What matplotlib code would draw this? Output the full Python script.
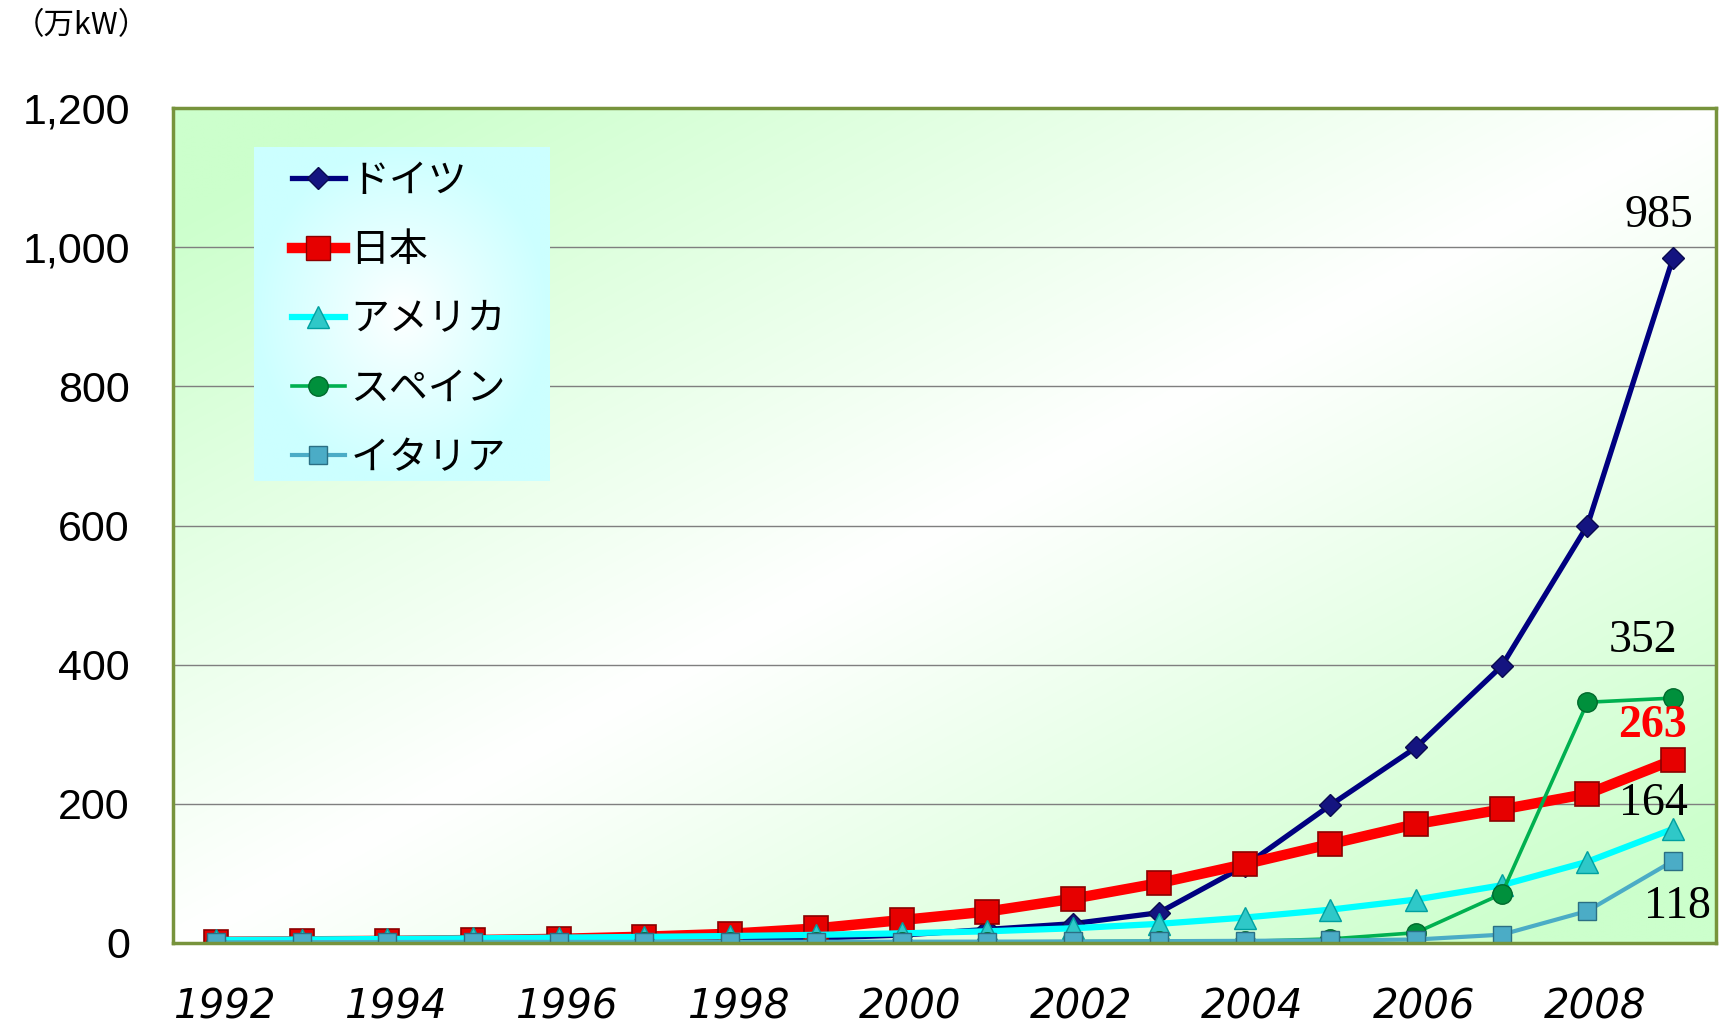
import numpy as np
import matplotlib
matplotlib.use("Agg")
import matplotlib.pyplot as plt
import matplotlib.transforms as mtransforms
from matplotlib.lines import Line2D

# ---------------- data ----------------
years = [1992, 1993, 1994, 1995, 1996, 1997, 1998, 1999, 2000,
         2001, 2002, 2003, 2004, 2005, 2006, 2007, 2008, 2009]
germany = [0.6, 0.9, 1.2, 1.8, 2.8, 4.2, 5.4, 7.0, 11.4,
           19.5, 27.8, 43.5, 110.5, 198, 281, 398, 600, 985]
japan = [1.9, 2.4, 3.1, 4.3, 6.0, 9.1, 13.3, 20.9, 33.0,
         45.2, 63.7, 86.0, 113.2, 142.2, 170.9, 191.9, 214.4, 263]
usa = [4.4, 5.0, 5.8, 6.7, 7.7, 8.8, 10.0, 11.7, 13.9,
       16.8, 21.2, 27.5, 36.5, 47.9, 62.4, 83.0, 116.8, 164]
spain = [0.5, 0.5, 0.6, 0.6, 0.7, 0.8, 0.9, 1.0, 1.2,
         1.5, 2.0, 2.7, 2.3, 5.8, 14.8, 70.5, 346, 352]
italy = [0.8, 1.2, 1.4, 1.6, 1.6, 1.7, 1.8, 1.8, 1.9,
         2.0, 2.2, 2.6, 3.1, 3.8, 5.0, 12.0, 46.0, 118]
labels = ["ドイツ", "日本", "アメリカ", "スペイン", "イタリア"]
y_ticks = [0, 200, 400, 600, 800, 1000, 1200]
x_ticklabels = ["1992", "", "1994", "", "1996", "", "1998", "", "2000", "",
                "2002", "", "2004", "", "2006", "", "2008", ""]
unit_label = "（万kW）"

# ---------------- figure ----------------
W, H = 1719, 1025
fig = plt.figure(figsize=(W / 100, H / 100), dpi=100)
fig.patch.set_facecolor("white")

L, R, T, B = 173, 1716, 108, 943
ax = fig.add_axes([L / W, 1 - B / H, (R - L) / W, (B - T) / H])
ax.set_zorder(0)

x = np.arange(len(years))

# background gradient: green at top-left & bottom-right, white along anti-diagonal
gx = np.linspace(0, 1, 300)
gy = np.linspace(0, 1, 200)
GX, GY = np.meshgrid(gx, gy)  # GY: 0 bottom -> 1 top
t = np.abs(GX - GY)
t = np.clip(t * 1.15, 0, 1)
green = np.array([204, 255, 204]) / 255.0
white = np.array([1.0, 1.0, 1.0])
img = white[None, None, :] * (1 - t[..., None]) + green[None, None, :] * t[..., None]
ax.imshow(img, extent=[-0.5, 17.5, 0, 1200], origin="lower", aspect="auto",
          zorder=0, interpolation="bilinear")

ax.set_xlim(-0.5, 17.5)
ax.set_ylim(0, 1200)

for yv in y_ticks[1:-1]:
    ax.axhline(yv, color="#7f7f7f", lw=1.0, zorder=1)

# series
ax.plot(x, germany, color="#000080", lw=3.8, marker="D", ms=11,
        mfc="#141480", mec="#0a0a50", mew=1.0, zorder=3)
ax.plot(x, japan, color="#ff0000", lw=7.5, marker="s", ms=17,
        mfc="#e60000", mec="#8b0000", mew=1.2, zorder=4)
ax.plot(x, usa, color="#00ffff", lw=4.5, marker="^", ms=16,
        mfc="#2fc8c8", mec="#00a0a0", mew=1.0, zorder=5)
ax.plot(x, spain, color="#00b050", lw=2.6, marker="o", ms=14,
        mfc="#00903c", mec="#006a2c", mew=1.0, zorder=6)
ax.plot(x, italy, color="#4bacc6", lw=3.0, marker="s", ms=13,
        mfc="#4bacc6", mec="#2b6f84", mew=1.0, zorder=7)

# data labels
serif = "Liberation Serif"
fs_lab = 33
ax.annotate("985", xy=(17, germany[-1]), xytext=(-14, 42), textcoords="offset pixels",
            ha="center", va="center", fontsize=fs_lab, family=serif, color="black", zorder=10)
ax.annotate("352", xy=(17, spain[-1]), xytext=(-30, 57), textcoords="offset pixels",
            ha="center", va="center", fontsize=fs_lab, family=serif, color="black", zorder=10)
ax.annotate("263", xy=(17, japan[-1]), xytext=(-21, 34), textcoords="offset pixels",
            ha="center", va="center", fontsize=fs_lab, family=serif, color="#ff0000",
            fontweight="bold", zorder=10)
ax.annotate("164", xy=(17, usa[-1]), xytext=(-20, 25), textcoords="offset pixels",
            ha="center", va="center", fontsize=fs_lab, family=serif, color="black", zorder=10)
ax.annotate("118", xy=(17, italy[-1]), xytext=(4, -46), textcoords="offset pixels",
            ha="center", va="center", fontsize=fs_lab, family=serif, color="black", zorder=10)

# axes styling
for s in ax.spines.values():
    s.set_color("#77933c")
    s.set_linewidth(2.5)
    s.set_zorder(8)

ax.set_yticks(y_ticks)
ax.set_yticklabels([f"{v:,}" for v in y_ticks], fontsize=31, family="Liberation Sans")
ax.tick_params(axis="y", length=0, pad=31)
ax.set_xticks(x)
ax.set_xticklabels(x_ticklabels, fontsize=29, family="Liberation Sans Narrow",
                   style="italic")
ax.tick_params(axis="x", length=0, pad=32)
shift = mtransforms.ScaledTranslation(8 / 100, 0, fig.dpi_scale_trans)
for lab in ax.get_xticklabels():
    lab.set_transform(lab.get_transform() + shift)

# unit label
fig.text(14 / W, 1 - 26 / H, unit_label, fontsize=22,
         family=["Noto Sans CJK JP", "DejaVu Sans"], ha="left", va="center")

# legend background (radial gradient)
LX0, LY0, LX1, LY1 = 254, 147, 549, 481
lax = fig.add_axes([LX0 / W, 1 - LY1 / H, (LX1 - LX0) / W, (LY1 - LY0) / H])
lax.set_zorder(1)
rx = np.linspace(-1, 1, 200)
ry = np.linspace(-1, 1, 200)
RX, RY = np.meshgrid(rx, ry)
rr = np.clip(np.sqrt(RX ** 2 + RY ** 2) / 1.0, 0, 1) ** 0.9
cyan = np.array([204, 255, 255]) / 255.0
limg = white[None, None, :] * (1 - rr[..., None]) + cyan[None, None, :] * rr[..., None]
lax.imshow(limg, extent=[0, 1, 0, 1], aspect="auto", interpolation="bilinear")
lax.set_axis_off()

handles = [
    Line2D([], [], color="#000080", lw=3.8, marker="D", ms=11, mfc="#141480", mec="#0a0a50"),
    Line2D([], [], color="#ff0000", lw=7.5, marker="s", ms=17, mfc="#e60000", mec="#8b0000"),
    Line2D([], [], color="#00ffff", lw=4.5, marker="^", ms=16, mfc="#2fc8c8", mec="#00a0a0"),
    Line2D([], [], color="#00b050", lw=2.6, marker="o", ms=14, mfc="#00903c", mec="#006a2c"),
    Line2D([], [], color="#4bacc6", lw=3.0, marker="s", ms=13, mfc="#4bacc6", mec="#2b6f84"),
]
leg = fig.legend(handles, labels, loc="upper left",
                 bbox_to_anchor=(292 / W, 1 - 161 / H),
                 frameon=False, borderpad=0, borderaxespad=0,
                 handlelength=1.35, handletextpad=0.15, labelspacing=0.75,
                 prop={"family": ["Noto Sans CJK JP", "DejaVu Sans"], "size": 28})
leg.set_zorder(5)

fig.savefig("out.png", dpi=100)
